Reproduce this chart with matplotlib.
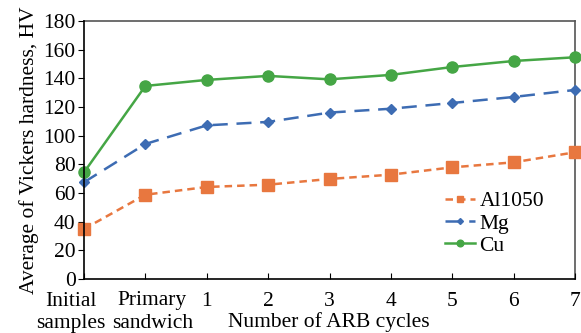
import matplotlib
matplotlib.use("Agg")
import matplotlib.pyplot as plt
from matplotlib.transforms import ScaledTranslation

categories = ["Initial\nsamples", "Primary\nsandwich", "1", "2", "3", "4", "5", "6", "7"]
al1050 = [34.9, 58.8, 64.2, 65.8, 69.8, 72.8, 77.9, 81.4, 88.4]
mg = [67.5, 94.2, 107.2, 109.6, 116.1, 118.8, 122.8, 127.0, 131.9]
cu = [74.4, 134.7, 138.9, 141.7, 139.3, 142.4, 147.9, 152.1, 154.7]

plt.rcParams['font.family'] = ['Liberation Serif', 'DejaVu Serif']
FS = 15.5

W, H = 581, 333
fig = plt.figure(figsize=(W/100, H/100), dpi=100)
ax = fig.add_axes([84/W, 1-279/H, (575-84)/W, (279-21)/H])

x = list(range(len(categories)))
ax.plot(x, al1050, color='#e8773f', linestyle=(0, (3, 2)), linewidth=1.8,
        marker='s', markersize=8, label='Al1050')
ax.plot(x, mg, color='#3d6cb3', linestyle=(0, (6, 3.5)), linewidth=1.8,
        marker='D', markersize=5, label='Mg')
ax.plot(x, cu, color='#45a645', linestyle='-', linewidth=1.8,
        marker='o', markersize=8, label='Cu')

ax.set_xlim(0, len(categories)-1)
ax.set_ylim(0, 180)
ax.set_yticks(range(0, 181, 20))
ax.set_xticks(x)
ax.set_xticklabels(categories, fontsize=FS, linespacing=1.25)
ax.tick_params(axis='y', direction='out', labelsize=FS, length=4, pad=2)
ax.tick_params(axis='x', direction='in', length=4, pad=9)

offsets = {0: -13, 1: 7}
for i, lbl in enumerate(ax.get_xticklabels()):
    if i in offsets:
        lbl.set_transform(lbl.get_transform() + ScaledTranslation(offsets[i]/100, 0, fig.dpi_scale_trans))

for s in ['left', 'bottom']:
    ax.spines[s].set_color('black')
    ax.spines[s].set_linewidth(1.2)
for s in ['top', 'right']:
    ax.spines[s].set_color('#555555')
    ax.spines[s].set_linewidth(1.2)
    ax.spines[s].set_zorder(0)

for line in ax.get_lines():
    line.set_clip_on(False)

ax.set_ylabel("Average of Vickers hardness, HV", fontsize=FS, labelpad=3)
fig.text(329/W, 1-322/H, "Number of ARB cycles", fontsize=FS, ha='center', va='center')

leg = ax.legend(loc='lower left', bbox_to_anchor=(0.735, 0.09), frameon=False,
                fontsize=FS, handlelength=1.4, handletextpad=0.2,
                labelspacing=0.1, markerscale=0.6, borderpad=0, borderaxespad=0)

fig.savefig("out.png", dpi=100)
